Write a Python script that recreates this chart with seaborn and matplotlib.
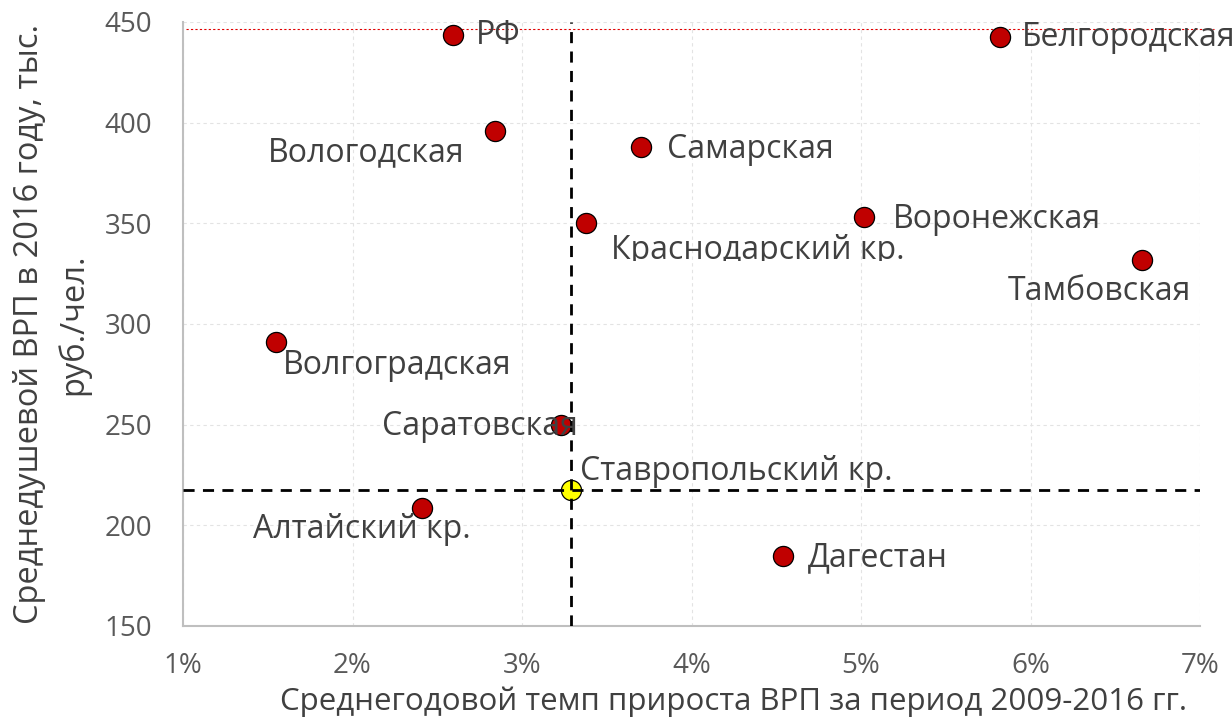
"""
Scatter: average annual GRP growth vs GRP per capita, selected regions.
"""

import matplotlib.pyplot as plt
import pandas as pd
import seaborn as sns
from matplotlib.patches import Rectangle
from matplotlib.ticker import FuncFormatter, MultipleLocator

regions = [
    "РФ", "Белгородская", "Вологодская", "Самарская", "Краснодарский кр.",
    "Воронежская", "Тамбовская", "Волгоградская", "Саратовская",
    "Алтайский кр.", "Дагестан",
]
growth = [2.59, 5.82, 2.84, 3.70, 3.38, 5.02, 6.66, 1.55, 3.23, 2.41, 4.54]
grp = [443.5, 442.5, 396, 388, 350, 353, 332, 291, 250, 208.5, 185]

focus_region = "Ставропольский кр."
focus_growth = 3.29
focus_grp = 217.5

# reference line at the top (RF level)
top_line_x = [1.02, 7.08]
top_line_y = [446.5, 446.5]

# label offsets in pixels (dx, dy, ha)
label_offsets = {
    "РФ": (23, 0, "left"),
    "Белгородская": (22, 0, "left"),
    "Вологодская": (-30, -22, "right"),
    "Самарская": (26, -3, "left"),
    "Краснодарский кр.": (25, -27, "left"),
    "Воронежская": (28, -2, "left"),
    "Тамбовская": (49, -32, "right"),
    "Волгоградская": (7, -23, "left"),
    "Саратовская": (17, -2, "right"),
    "Ставропольский кр.": (9, 19, "left"),
    "Алтайский кр.": (49, -21, "right"),
    "Дагестан": (25, -2, "left"),
}

TEXT_COLOR = "#404040"
TICK_COLOR = "#595959"
W, H = 1232, 726


def draw_chart() -> None:
    df = pd.DataFrame({"region": regions, "growth": growth, "grp": grp})
    focus_df = pd.DataFrame(
        {"region": [focus_region], "growth": [focus_growth], "grp": [focus_grp]}
    )

    sns.set_style("white")
    plt.rcParams["font.family"] = ["Open Sans", "DejaVu Sans"]

    fig = plt.figure(figsize=(W / 100, H / 100), dpi=100)
    ax = fig.add_axes([183 / W, 100 / H, 1017 / W, 604 / H])

    ax.set_xlim(1, 7)
    ax.set_ylim(150, 450)
    ax.xaxis.set_major_locator(MultipleLocator(1))
    ax.yaxis.set_major_locator(MultipleLocator(50))
    ax.xaxis.set_major_formatter(FuncFormatter(lambda v, _: f"{v:.0f}%"))

    ax.grid(True, color="#e3e3e3", linestyle=(0, (3, 3)), linewidth=0.8)
    ax.set_axisbelow(True)

    ax.plot(top_line_x, top_line_y, color="#e00000", linestyle=(0, (2, 2)),
            linewidth=0.8, clip_on=False, zorder=2)

    sns.scatterplot(data=df, x="growth", y="grp", ax=ax, s=210,
                    color="#c00000", edgecolor="black", linewidth=0.9,
                    zorder=3, clip_on=False)
    sns.scatterplot(data=focus_df, x="growth", y="grp", ax=ax, s=210,
                    color="#ffff00", edgecolor="black", linewidth=0.9,
                    alpha=1, zorder=3)

    # dashed cross through the focus region
    ax.axvline(focus_growth, color="black", linestyle=(0, (4, 3)), linewidth=2, zorder=3.5)
    ax.axhline(focus_grp, color="black", linestyle=(0, (4, 3)), linewidth=2, zorder=3.5)

    all_points = list(zip(regions, growth, grp)) + [(focus_region, focus_growth, focus_grp)]
    for name, gx, gy in all_points:
        dx, dy, ha = label_offsets[name]
        txt = ax.annotate(name, (gx, gy), xytext=(dx, dy), textcoords="offset pixels",
                          ha=ha, va="center", fontsize=23, color=TEXT_COLOR,
                          annotation_clip=False, zorder=4)
        if name == "Краснодарский кр.":
            # the label box in the original cuts off the bottom of this text
            keep = Rectangle((0, (H - 261) / H), 1, 1, transform=fig.transFigure,
                             visible=False)
            fig.add_artist(keep)
            txt.set_clip_path(keep)
            txt.set_clip_on(True)

    for side in ["top", "right"]:
        ax.spines[side].set_visible(False)
    for side in ["left", "bottom"]:
        ax.spines[side].set_color("#bfbfbf")
        ax.spines[side].set_linewidth(1.5)

    ax.tick_params(axis="both", length=0, labelsize=20, labelcolor=TICK_COLOR)
    ax.tick_params(axis="y", pad=22)
    ax.tick_params(axis="x", pad=19)

    ax.set_xlabel("Среднегодовой темп прироста ВРП за период 2009-2016 гг.",
                  fontsize=22.5, color=TEXT_COLOR)
    ax.set_ylabel("Среднедушевой ВРП в 2016 году, тыс.\nруб./чел.",
                  fontsize=23.5, color=TEXT_COLOR, linespacing=1.42)
    ax.xaxis.set_label_coords(0.541, -0.1)
    ax.yaxis.set_label_coords(-0.091, 0.5)

    fig.savefig("out.png", dpi=100)


if __name__ == "__main__":
    draw_chart()
